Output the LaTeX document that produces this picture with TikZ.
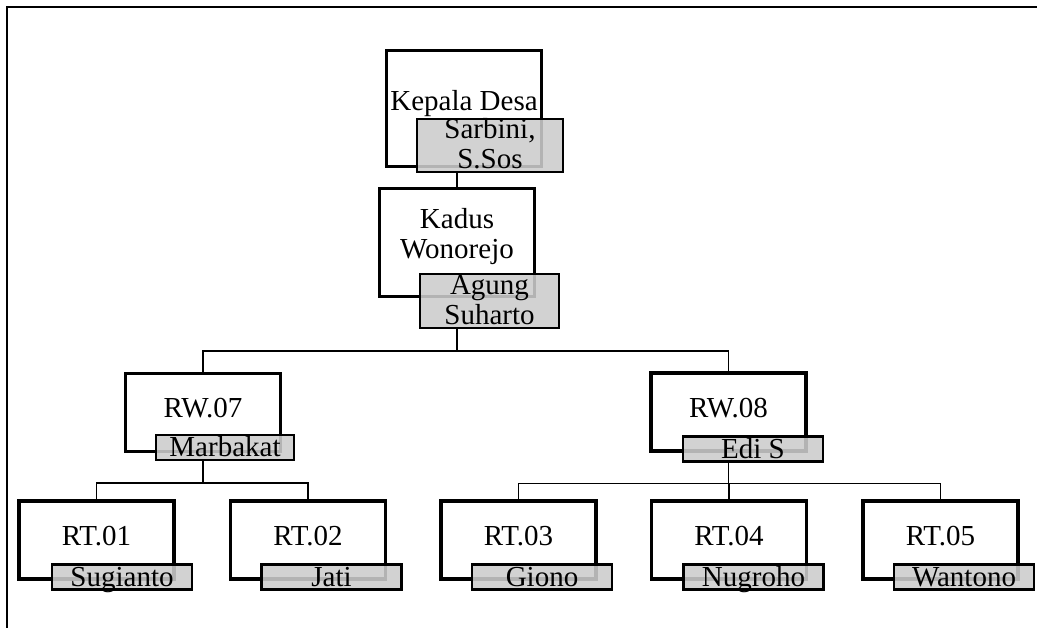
\documentclass[tikz,border=0pt]{standalone}
\usepackage{fontspec}
\setmainfont{Liberation Serif}
\usepackage{xcolor}
\usetikzlibrary{positioning,calc}

\definecolor{nmgray}{RGB}{204,204,204}

\begin{document}
\begin{tikzpicture}[x=1pt, y=-1pt,
    jabatan/.style={draw, line width=3.2pt, fill=white, minimum width=155pt, minimum height=78pt, inner sep=0pt, align=center, text height=19pt, text depth=8pt, font=\fontsize{29}{30}\selectfont},
    nama/.style={draw, line width=2.2pt, fill=nmgray, fill opacity=0.88, text opacity=1, minimum width=140pt, minimum height=25pt, inner sep=0pt, align=center, text height=20pt, text depth=2pt, font=\fontsize{29}{30}\selectfont},
    garis/.style={line width=1.6pt}]
    \useasboundingbox (0,0) rectangle (1037,628);
    \draw[line width=1.4pt] (7,628) -- (7,7) -- (1037,7);

    % kepala desa dan kadus
    \node[jabatan, minimum height=116pt, text depth=15pt] (kades) at (464,108.5) {Kepala Desa};
    \node[nama, minimum width=146pt, minimum height=53pt, text height=49pt, text depth=3pt] (kades-nm) at (490,145.5) {Sarbini,\\S.Sos};

    \node[jabatan, minimum height=108pt, text height=49pt, text depth=16pt] (kadus) at (457,242.5) {Kadus\\Wonorejo};
    \node[nama, minimum width=139pt, minimum height=54pt, text height=49pt, text depth=2pt] (kadus-nm) at (489.5,301) {Agung\\Suharto};

    % RW
    \node[jabatan] (rw07) at (203,412.5) {RW.07};
    \node[nama, minimum width=138pt] (rw07-nm) at (225,447.5) {Marbakat};

    \node[jabatan] (rw08) at (728.5,412) {RW.08};
    \node[nama] (rw08-nm) at (753,449) {Edi S};

    % RT
    \node[jabatan] (rt01) at (96.5,540) {RT.01};
    \node[nama] (rt01-nm) at (122,577) {Sugianto};

    \node[jabatan] (rt02) at (308,540) {RT.02};
    \node[nama] (rt02-nm) at (331.5,577) {Jati};

    \node[jabatan] (rt03) at (518.5,540) {RT.03};
    \node[nama] (rt03-nm) at (542,577) {Giono};

    \node[jabatan] (rt04) at (729,540) {RT.04};
    \node[nama] (rt04-nm) at (753.5,577) {Nugroho};

    \node[jabatan] (rt05) at (940.5,540) {RT.05};
    \node[nama] (rt05-nm) at (964,577) {Wantono};

    % garis
    \draw[garis] (kades-nm.south -| kadus.north) -- (kadus.north);

    \coordinate (bar1) at ($(kadus.south |- kadus-nm.south)+(0,22)$);
    \draw[garis] (kadus.south |- kadus-nm.south) -- (bar1);
    \draw[garis] (bar1) -| (rw07.north);
    \draw[garis] (bar1) -| (rw08.north);

    \coordinate (bar2) at ($(rw07.south |- rw07-nm.south)+(0,22)$);
    \draw[garis] (rw07.south |- rw07-nm.south) -- (bar2);
    \draw[garis] (bar2) -| (rt01.north);
    \draw[garis] (bar2) -| (rt02.north);

    \coordinate (bar3) at ($(rw08.south |- rw08-nm.south)+(0,21)$);
    \draw[garis] (rw08.south |- rw08-nm.south) -- (bar3);
    \draw[garis] (bar3) -| (rt03.north);
    \draw[garis] (bar3) -| (rt04.north);
    \draw[garis] (bar3) -| (rt05.north);
\end{tikzpicture}
\end{document}
